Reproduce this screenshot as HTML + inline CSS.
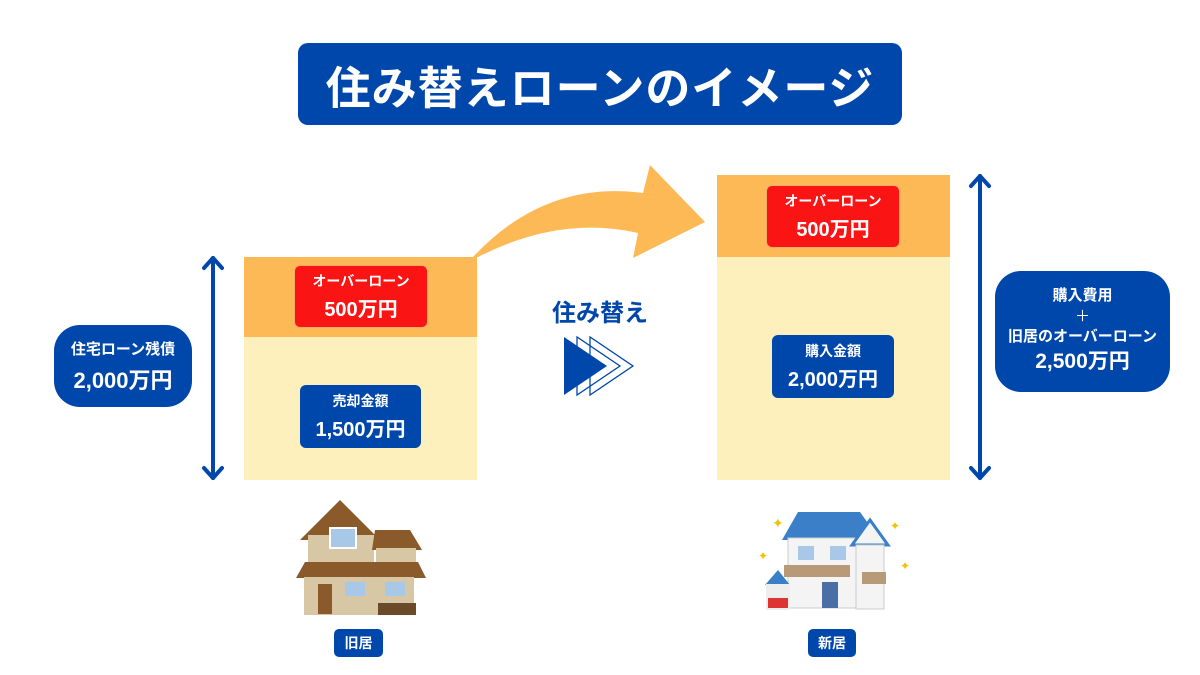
<!DOCTYPE html>
<html><head><meta charset="utf-8"><style>
body{margin:0;background:#fff;width:1200px;height:675px;overflow:hidden;font-family:"Liberation Sans","Noto Sans CJK JP",sans-serif;}
.a{position:absolute;box-sizing:border-box;display:flex;flex-direction:column;align-items:center;justify-content:center;color:#fff;font-weight:bold;text-align:center;}
.blue{background:#0047ab;}
.red{background:#fa1414;border:1px solid #f5a96a;}
</style></head><body>
<div style="position:relative;width:1200px;height:675px;">
<svg width="1200" height="675" style="position:absolute;left:0;top:0">
<rect x="244" y="257" width="233" height="80" fill="#fdb955"/>
<rect x="244" y="337" width="233" height="143" fill="#fef0bc"/>
<rect x="717" y="175" width="233" height="82" fill="#fdb955"/>
<rect x="717" y="257" width="233" height="223" fill="#fef0bc"/>
<path d="M473,257 Q545,180 643,193 L650,165 L705,222 L633,258 L638,233 Q560,215 478,257 Z" fill="#fdb955"/>
<g stroke="#0047ab" stroke-width="4" fill="none" stroke-linecap="round" stroke-linejoin="round">
<line x1="213" y1="258" x2="213" y2="478"/><path d="M204,268 L213,258 L222,268 M204,468 L213,478 L222,468"/>
<line x1="980" y1="176" x2="980" y2="478"/><path d="M971,186 L980,176 L989,186 M971,468 L980,478 L989,468"/>
</g>
<path d="M577,337 L577,395 L620,366 Z M590,337 L590,395 L633,366 Z" fill="none" stroke="#0047ab" stroke-width="1.3"/>
<path d="M564,337 L564,395 L607,366 Z" fill="#0047ab"/>
<g>
<path d="M300,540 L340,500 L380,540 Z" fill="#8a5a2b"/>
<rect x="308" y="535" width="66" height="30" fill="#d8c7a5"/>
<rect x="330" y="528" width="26" height="20" fill="#a8c8e8" stroke="#fff" stroke-width="2"/>
<path d="M375,530 L410,530 L422,550 L372,550 Z" fill="#8a5a2b"/>
<rect x="376" y="548" width="40" height="20" fill="#d8c7a5"/>
<path d="M296,578 L305,562 L418,562 L426,578 Z" fill="#8a5a2b"/>
<rect x="304" y="577" width="110" height="38" fill="#d8c7a5"/>
<rect x="318" y="584" width="14" height="30" fill="#8a5a2b"/>
<rect x="345" y="582" width="20" height="14" fill="#a8c8e8"/>
<rect x="385" y="582" width="20" height="14" fill="#a8c8e8"/>
<rect x="378" y="603" width="38" height="12" fill="#6b4a2a"/>
</g>
<g>
<path d="M782,540 L798,512 L860,512 L880,540 Z" fill="#3a7fc8"/>
<rect x="788" y="538" width="70" height="70" fill="#f4f4f4" stroke="#ccc"/>
<rect x="798" y="546" width="16" height="14" fill="#a8c8e8"/>
<rect x="830" y="546" width="16" height="14" fill="#a8c8e8"/>
<rect x="784" y="565" width="66" height="12" fill="#b89a78"/>
<path d="M852,545 L870,520 L888,545 Z" fill="#f4f4f4" stroke="#3a7fc8" stroke-width="3"/>
<rect x="856" y="545" width="28" height="64" fill="#f4f4f4" stroke="#ccc"/>
<rect x="862" y="572" width="24" height="12" fill="#b89a78"/>
<rect x="822" y="582" width="16" height="26" fill="#4a6fa5"/>
<path d="M765,585 L778,570 L790,585 Z" fill="#3a7fc8"/>
<rect x="766" y="584" width="24" height="26" fill="#eee"/>
<rect x="768" y="598" width="20" height="10" fill="#d33"/>
<text x="772" y="528" font-size="14" fill="#f2c200">✦</text>
<text x="758" y="560" font-size="12" fill="#f2c200">✦</text>
<text x="890" y="530" font-size="12" fill="#f2c200">✦</text>
<text x="900" y="570" font-size="12" fill="#f2c200">✦</text>
</g>
</svg>
<div class="a blue" style="left:298px;top:43px;width:604px;height:82px;border-radius:10px;font-size:45px;letter-spacing:1px;">住み替えローンのイメージ</div>
<div class="a blue" style="left:54px;top:325px;width:138px;height:82px;border-radius:26px;"><div style="font-size:15px">住宅ローン残債</div><div style="font-size:22px;margin-top:4px">2,000万円</div></div>
<div class="a red" style="left:294px;top:265px;width:134px;height:63px;border-radius:6px;"><div style="font-size:14px">オーバーローン</div><div style="font-size:20px;margin-top:2px">500万円</div></div>
<div class="a blue" style="left:300px;top:385px;width:121px;height:63px;border-radius:6px;"><div style="font-size:14px">売却金額</div><div style="font-size:20px;margin-top:2px">1,500万円</div></div>
<div class="a red" style="left:766px;top:185px;width:134px;height:63px;border-radius:6px;"><div style="font-size:14px">オーバーローン</div><div style="font-size:20px;margin-top:2px">500万円</div></div>
<div class="a blue" style="left:772px;top:335px;width:122px;height:63px;border-radius:6px;"><div style="font-size:14px">購入金額</div><div style="font-size:20px;margin-top:2px">2,000万円</div></div>
<div class="a blue" style="left:995px;top:271px;width:175px;height:121px;border-radius:26px;line-height:1.35;"><div style="font-size:15px">購入費用</div><div style="font-size:15px;font-weight:normal">＋</div><div style="font-size:15px">旧居のオーバーローン</div><div style="font-size:21px;margin-top:1px">2,500万円</div></div>
<div class="a" style="left:540px;top:292px;width:120px;height:36px;color:#0047ab;font-size:24px;">住み替え</div>
<div class="a blue" style="left:334px;top:629px;width:49px;height:28px;border-radius:5px;font-size:14px;">旧居</div>
<div class="a blue" style="left:808px;top:629px;width:48px;height:28px;border-radius:5px;font-size:14px;">新居</div>
</div>
</body></html>
